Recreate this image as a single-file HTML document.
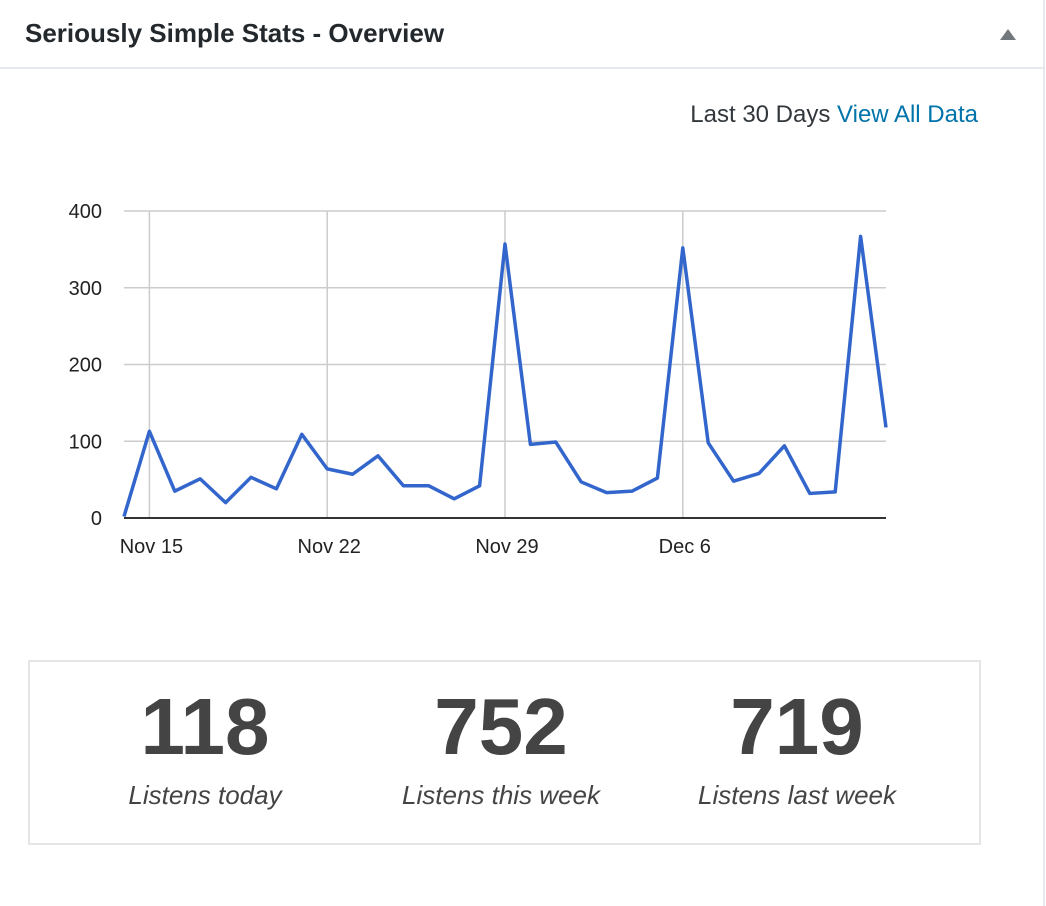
<!DOCTYPE html>
<html><head><meta charset="utf-8"><style>
body{margin:0;width:1046px;height:906px;background:#fff;font-family:"Liberation Sans",sans-serif;position:relative;overflow:hidden}
#hdr{position:absolute;left:0;top:0;width:1043px;height:67px;border-bottom:2px solid #e5e8ec}
#rb{position:absolute;left:1043px;top:0;width:2px;height:906px;background:#e5e8ec}
#title{position:absolute;left:25px;top:18px;font-size:26px;font-weight:bold;color:#23282d}
#tog{position:absolute;left:1000px;top:29px;width:0;height:0;border-left:8px solid transparent;border-right:8px solid transparent;border-bottom:11px solid #72777c}
#range{position:absolute;right:68px;top:101px;font-size:24px;color:#32373c}
#range a{color:#0073aa;text-decoration:none}
#chart{position:absolute;left:0;top:0}
#box{position:absolute;left:28px;top:660px;width:949px;height:181px;border:2px solid #e5e5e5}
.st{position:absolute;top:0;width:300px;text-align:center}
.n{font-size:80px;font-weight:bold;color:#444;margin-top:20px;line-height:90px}
.l{font-size:26px;font-style:italic;color:#444;margin-top:8px}
</style></head><body>
<div id="hdr">
<div id="title">Seriously Simple Stats - Overview</div>
<div id="tog"></div>
</div>
<div id="rb"></div>
<div id="range">Last 30 Days <a href="#">View All Data</a></div>
<svg id="chart" width="1046" height="620"></svg>
<div id="box">
<div class="st" style="left:25px"><div class="n">118</div><div class="l">Listens today</div></div>
<div class="st" style="left:321px"><div class="n">752</div><div class="l">Listens this week</div></div>
<div class="st" style="left:617px"><div class="n">719</div><div class="l">Listens last week</div></div>
</div>
<script>
const values=[2,113,35,51,20,53,38,109,64,57,81,42,42,25,42,357,96,99,47,33,35,52,352,98,48,58,94,32,34,367,118];
const yTicks=[0,100,200,300,400];
const xTickIdx=[1,8,15,22];
const xTickLabels=["Nov 15","Nov 22","Nov 29","Dec 6"];
const NS="http://www.w3.org/2000/svg";
const svg=document.getElementById('chart');
const X0=124,X1=886,Y0=518,Y1=211;
const x=i=>X0+(X1-X0)*i/(values.length-1);
const y=v=>Y0-(Y0-Y1)*v/400;
function mk(t,a){const e=document.createElementNS(NS,t);for(const k in a)e.setAttribute(k,a[k]);svg.appendChild(e);return e;}
yTicks.forEach(t=>{
 if(t>0){const g=mk('line',{x1:X0,x2:X1,y1:y(t),y2:y(t),stroke:'#ccc','stroke-width':1.5});
 
 }
 const l=mk('text',{x:102,y:y(t)+7,'text-anchor':'end','font-size':20,fill:'#222','font-family':'Liberation Sans, sans-serif'});
 l.textContent=t;
 
 
});
xTickIdx.forEach((d,k)=>{
 const g=mk('line',{x1:x(d),x2:x(d),y1:Y1,y2:Y0,stroke:'#ccc','stroke-width':1.5});
 
 
 const l=mk('text',{x:x(d)+2,y:553,'text-anchor':'middle','font-size':20,fill:'#222','font-family':'Liberation Sans, sans-serif'});
 l.textContent=xTickLabels[k];
 
 
});
const base=mk('line',{x1:X0,x2:X1,y1:Y0,y2:Y0,stroke:'#333','stroke-width':2});


const p=mk('polyline',{points:values.map((v,i)=>x(i)+','+y(v)).join(' '),fill:'none',stroke:'#3366cc','stroke-width':3.5,'stroke-linejoin':'round'});


</script>
</body></html>
